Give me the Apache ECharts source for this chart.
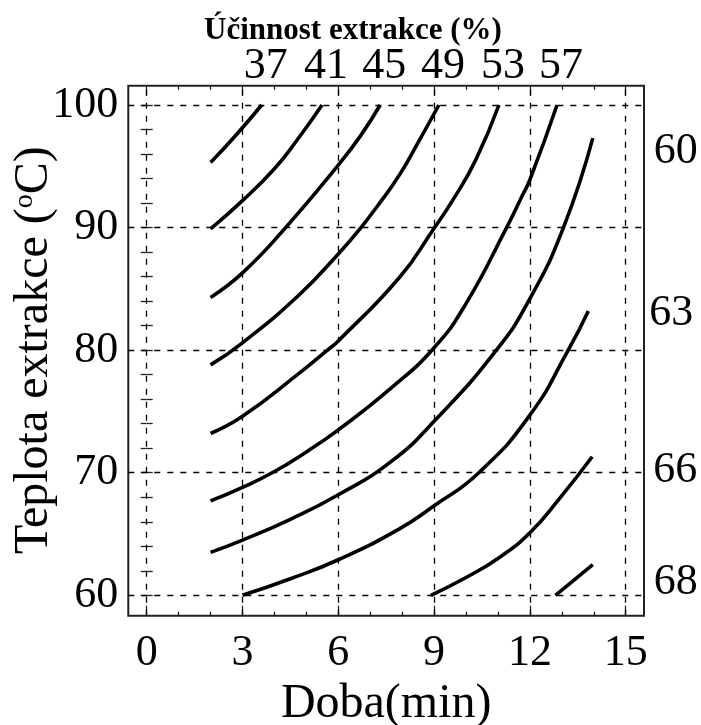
<!DOCTYPE html>
<html>
<head>
<meta charset="utf-8">
<script src="https://cdn.jsdelivr.net/npm/echarts@6/dist/echarts.min.js"></script>
<style>
  html, body { margin: 0; padding: 0; background: #fff; }
  #chart { width: 701px; height: 725px; }
</style>
</head>
<body>
<div id="chart"></div>
<script>
// Axis ticks
const xTicks = [0, 3, 6, 9, 12, 15];
const yTicks = [60, 70, 80, 90, 100];

// Contour levels of extraction efficiency (%)
const topLevels = ['37', '41', '45', '49', '53', '57'];
const sideLevels = ['60', '63', '66', '68'];

// Contour lines: [time (min), temperature (°C)]
const c37 = [[2.0, 95.3], [2.8, 97.55], [3.6, 100]];
const c41 = [[2.0, 89.9], [3.0, 92.2], [4.0, 94.8], [4.7, 97.1], [5.49, 100]];
const c45 = [[2.0, 84.3], [3.0, 86.3], [4.35, 90.0], [6.0, 95.1], [6.7, 97.5], [7.31, 100]];
const c49 = [[2.0, 78.8], [3.0, 80.6], [4.77, 84.5], [6.0, 87.85], [6.71, 90.0], [7.34, 92.16], [7.94, 94.4], [8.48, 96.85], [9.15, 100]];
const c53 = [[2.0, 73.2], [3.0, 74.6], [4.77, 78.1], [5.66, 80.0], [6.0, 80.75], [7.92, 85.95], [9.0, 89.95], [9.6, 92.3], [10.3, 95.5], [11.03, 100]];
const c57 = [[2.0, 67.7], [3.0, 68.8], [4.0, 70.1], [5.0, 71.7], [6.0, 73.5], [7.65, 76.9], [9.0, 80.2], [10.0, 83.8], [11.27, 90.0], [11.74, 92.5], [12.0, 93.9], [12.85, 100]];
const c60 = [[2.0, 63.5], [3.0, 64.5], [4.5, 66.2], [6.0, 68.2], [7.65, 70.9], [9.0, 74.2], [10.95, 80.0], [12.0, 84.2], [13.05, 90.0], [13.97, 97.3]];
const c63 = [[3.0, 60.0], [4.5, 61.35], [6.0, 62.9], [7.9, 65.4], [9.0, 67.3], [10.4, 70.0], [12.0, 74.7], [13.2, 80.0], [13.83, 83.2]];
const c66 = [[8.9, 60.0], [10.0, 61.45], [11.08, 63.15], [12.0, 65.1], [12.9, 67.8], [13.95, 71.3]];
const c68 = [[12.8, 60.0], [13.97, 62.5]];

const topCurves = [c37, c41, c45, c49, c53, c57];
const sideCurves = [c60, c63, c66, c68];

// Layout
const W = 701, H = 725;
const inner = { left: 146.7, right: 75.3, top: 105, bottom: 129.7 };
const outer = { left: 128.3, right: 57, top: 85.7, bottom: 109.3 };
const sideLabelShift = [13, 3, 14, 18];

const xLo = xTicks[0], xHi = xTicks[xTicks.length - 1];
const yLo = yTicks[0], yHi = yTicks[yTicks.length - 1];
const pxX = (W - inner.left - inner.right) / (xHi - xLo);
const pxY = (H - inner.top - inner.bottom) / (yHi - yLo);
const xMinO = xLo - (inner.left - outer.left) / pxX;
const xMaxO = xHi + (inner.right - outer.right) / pxX;
const yMinO = yLo - (inner.bottom - outer.bottom) / pxY;
const yMaxO = yHi + (inner.top - outer.top) / pxY;

const FONT = "'Liberation Serif', 'Times New Roman', serif";
const ink = '#000';
const tickColor = '#222';

function tickAxis(extra) {
  return Object.assign({
    type: 'value',
    gridIndex: 0,
    nameMoveOverlap: false,
    axisLine: { show: false },
    axisTick: { show: true, inside: true, length: 10, lineStyle: { color: tickColor, width: 1.3 } },
    minorTick: { show: true, splitNumber: 3, length: 4, lineStyle: { color: tickColor, width: 1.3 } },
    splitLine: { show: false },
    axisLabel: { show: false }
  }, extra);
}

const curveStyle = { color: ink, width: 3.6, cap: 'butt' };

// One contour line, with its level written next to its last point
function curveSeries(data, level, label) {
  return {
    type: 'line',
    xAxisIndex: 2, yAxisIndex: 2,
    data: data,
    smooth: 0.5,
    showSymbol: false,
    silent: true,
    lineStyle: curveStyle,
    markPoint: {
      silent: true,
      symbol: 'circle',
      symbolSize: 0,
      itemStyle: { color: 'transparent' },
      label: Object.assign({
        show: true,
        formatter: level,
        fontFamily: FONT,
        fontSize: 44,
        color: ink
      }, label),
      data: [{ coord: data[data.length - 1] }]
    }
  };
}

const series = [];
topCurves.forEach((c, i) => {
  series.push(curveSeries(c, topLevels[i], { position: 'top', distance: 17, offset: [4, 0] }));
});
sideCurves.forEach((c, i) => {
  series.push(curveSeries(c, sideLevels[i], { position: 'right', distance: 61, offset: [0, sideLabelShift[i]] }));
});

// Dashed reference grid spanning the framed area
series[0].markLine = {
  silent: true,
  symbol: ['none', 'none'],
  label: { show: false },
  lineStyle: { type: [6, 7], color: ink, width: 1.3 },
  data: xTicks.map(v => ({ xAxis: v })).concat(yTicks.map(v => ({ yAxis: v })))
};

const option = {
  animation: false,
  backgroundColor: '#fff',
  title: {
    text: 'Účinnost extrakce (%)',
    left: 199,
    top: 10,
    textStyle: { fontFamily: FONT, fontWeight: 'bold', fontSize: 31, color: ink }
  },
  grid: [
    Object.assign({ show: false, outerBoundsMode: 'none', containLabel: false }, inner),
    Object.assign({ show: true, outerBoundsMode: 'none', containLabel: false, borderColor: '#222', borderWidth: 2, backgroundColor: 'transparent' }, outer)
  ],
  xAxis: [
    tickAxis({
      position: 'bottom', min: xLo, max: xHi, interval: 3,
      offset: inner.bottom - outer.bottom,
      axisLabel: { show: true, fontFamily: FONT, fontSize: 44, color: ink, margin: 16 },
      name: 'Doba(min)', nameLocation: 'middle', nameGap: 65,
      nameTextStyle: { fontFamily: FONT, fontSize: 48, color: ink }
    }),
    tickAxis({
      position: 'top', min: xLo, max: xHi, interval: 3,
      offset: inner.top - outer.top
    }),
    { type: 'value', gridIndex: 1, min: xMinO, max: xMaxO, show: false }
  ],
  yAxis: [
    tickAxis({
      position: 'left', min: yLo, max: yHi, interval: 10,
      offset: inner.left - outer.left,
      axisTick: { show: true, inside: true, length: 6, lineStyle: { color: tickColor, width: 1.3 } },
      minorTick: { show: true, splitNumber: 5, length: 6, lineStyle: { color: tickColor, width: 1.3 } },
      axisLabel: { show: true, fontFamily: FONT, fontSize: 44, color: ink, margin: 10 },
      name: 'Teplota extrakce ({o|o}C)', nameLocation: 'middle', nameGap: 70,
      nameTextStyle: {
        fontFamily: FONT, fontSize: 48, color: ink,
        rich: { o: { fontFamily: FONT, fontSize: 28, color: ink, verticalAlign: 'top' } }
      }
    }),
    tickAxis({
      position: 'right', min: yLo, max: yHi, interval: 10,
      offset: inner.right - outer.right,
      axisTick: { show: true, inside: true, length: 6, lineStyle: { color: tickColor, width: 1.3 } },
      minorTick: { show: true, splitNumber: 5, length: 6, lineStyle: { color: tickColor, width: 1.3 } }
    }),
    { type: 'value', gridIndex: 1, min: yMinO, max: yMaxO, show: false }
  ],
  series
};

const chart = echarts.init(document.getElementById('chart'), null, { renderer: 'canvas' });
chart.setOption(option);
</script>
</body>
</html>
